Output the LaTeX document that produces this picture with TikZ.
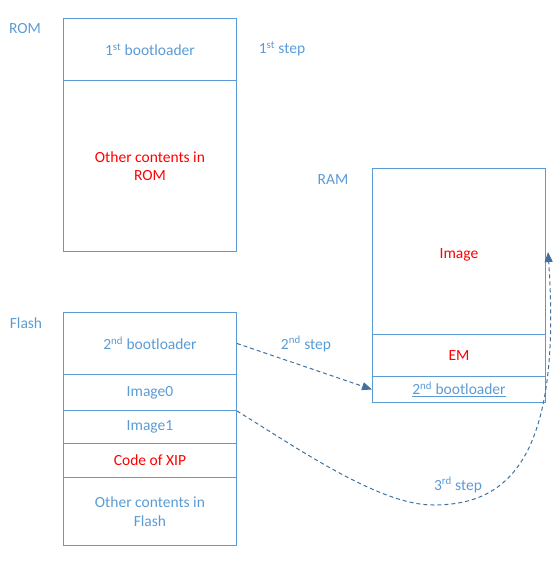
\documentclass[tikz,border=0pt]{standalone}
\usepackage{fontspec}
\setmainfont{Carlito}
\usetikzlibrary{arrows.meta}
\definecolor{oblue}{HTML}{5B9BD5}
\definecolor{dblue}{HTML}{41719C}
\definecolor{ored}{HTML}{FF0000}
\tikzset{
  cell/.style={draw=oblue, line width=0.9pt, minimum width=173pt, anchor=north west, inner sep=0pt, align=center, text=oblue, font=\fontsize{15.5}{18.5}\selectfont},
  redtxt/.style={text=ored},
  lbl/.style={text=oblue, font=\fontsize{15.5}{18.5}\selectfont, inner sep=0pt},
  flow/.style={draw=dblue, line width=1pt, dash pattern=on 4pt off 3pt, -{Triangle[length=10pt,width=8pt]}}
}
\begin{document}
\begin{tikzpicture}[x=1pt,y=-1pt]
\useasboundingbox (0,0) rectangle (557,569);
% ROM
\node[cell, minimum height=62pt] (rom1) at (63,18) {1\textsuperscript{st} bootloader};
\node[cell, redtxt, minimum height=171pt] (rom2) at (63,80) {Other contents in\\ROM};
\node[lbl] (romlbl) at (25,29) {ROM};
\node[lbl] (step1) at (282,49) {1\textsuperscript{st} step};
% Flash
\node[cell, minimum height=62pt] (f1) at (63,312) {2\textsuperscript{nd} bootloader};
\node[cell, minimum height=36pt] (f2) at (63,374) {Image0};
\node[cell, minimum height=33pt] (f3) at (63,410) {Image1};
\node[cell, redtxt, minimum height=34pt] (f4) at (63,443) {Code of XIP};
\node[cell, minimum height=68pt] (f5) at (63,477) {Other contents in\\Flash};
\node[lbl] (flashlbl) at (26,323) {Flash};
% RAM
\node[cell, minimum height=166pt] (r1) at (372,168) {};
\node[lbl, text=ored] (imgtxt) at ([yshift=-3pt]r1.center) {Image};
\node[cell, redtxt, minimum height=42pt] (r2) at (372,334) {EM};
\node[cell, minimum height=26pt] (r3) at (372,376) {\underline{2\textsuperscript{nd} bootloader}};
\node[lbl] (ramlbl) at (333,180) {RAM};
% arrows
\coordinate (tgt) at (548,252);
\coordinate (bot) at (433,505);
\draw[flow] (f1.east) -- (r3.west);
\node[lbl] (step2) at (306,344) {2\textsuperscript{nd} step};
\draw[flow] (f2.south east) .. controls (300,450) and (380,505) .. (bot) .. controls (500,505) and (563,470) .. (tgt);
\node[lbl] (step3) at (458,485) {3\textsuperscript{rd} step};
\end{tikzpicture}
\end{document}
